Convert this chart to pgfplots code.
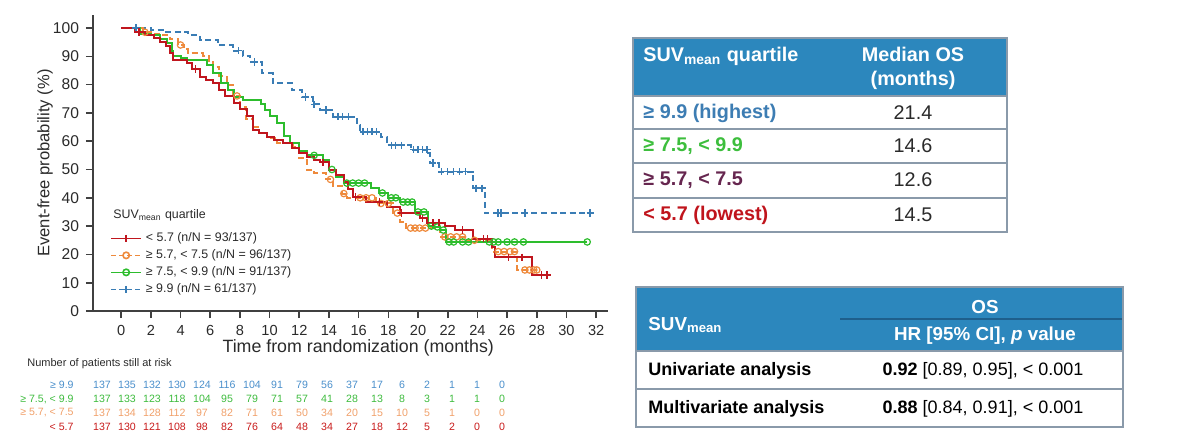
\documentclass[border=0pt]{standalone}
\usepackage{pgfplots}
\pgfplotsset{compat=1.18}
\usepackage{fontspec}
\setmainfont{Liberation Sans}
\definecolor{cred}{HTML}{C0161E}
\definecolor{corange}{HTML}{EE8A3C}
\definecolor{cgreen}{HTML}{2DBD2D}
\definecolor{cblue}{HTML}{3A7DB5}
\definecolor{rblue}{HTML}{4A8FCB}
\definecolor{rgreen}{HTML}{3DBB3D}
\definecolor{rorange}{HTML}{F0A06A}
\definecolor{rred}{HTML}{C81A1A}
\definecolor{tblue}{HTML}{3D7DB3}
\definecolor{tgreen}{HTML}{3DBE3D}
\definecolor{tpurple}{HTML}{66264F}
\definecolor{tred}{HTML}{C0141C}
\definecolor{hdr}{HTML}{2C87BD}
\definecolor{border}{HTML}{8A9AAA}
\definecolor{hdrline}{HTML}{1E5F8C}
\definecolor{txt}{HTML}{2A2A2A}
\begin{document}
\begin{tikzpicture}
\begin{scope}[x=0.5pt,y=-0.5pt]
\path (0,0) rectangle (1200,443);
% legend title
\node[anchor=west, inner sep=0pt, text=txt, font=\fontsize{6.2}{7}\selectfont] at (113,215) {SUV\textsubscript{mean} quartile};
% risk table
\node[anchor=west, inner sep=0pt, text=txt, font=\fontsize{5.5}{6}\selectfont] at (27,364) {Number of patients still at risk};
\begin{scope}[font=\fontsize{5.3}{6}\selectfont, inner sep=0pt]
\node[anchor=east, text=rblue] at (74,385) {≥ 9.9};
\node[anchor=east, text=rgreen] at (74,399) {≥ 7.5, < 9.9};
\node[anchor=east, text=rorange] at (74,413) {≥ 5.7, < 7.5};
\node[anchor=east, text=rred] at (74,427) {< 5.7};
\foreach \v [count=\i from 0] in {137,135,132,130,124,116,104,91,79,56,37,17,6,2,1,1,0}
  \node[text=rblue] at (102+25*\i,385) {\v};
\foreach \v [count=\i from 0] in {137,133,123,118,104,95,79,71,57,41,28,13,8,3,1,1,0}
  \node[text=rgreen] at (102+25*\i,399) {\v};
\foreach \v [count=\i from 0] in {137,134,128,112,97,82,71,61,50,34,20,15,10,5,1,0,0}
  \node[text=rorange] at (102+25*\i,413) {\v};
\foreach \v [count=\i from 0] in {137,130,121,108,98,82,76,64,48,34,27,18,12,5,2,0,0}
  \node[text=rred] at (102+25*\i,427) {\v};
\end{scope}
% table 1
\fill[hdr] (633,38) rectangle (1007,96);
\foreach \yy in {96,129,163,198} \draw[border, line width=0.6pt] (633,\yy) -- (1007,\yy);
\draw[border, line width=0.6pt] (633,38) rectangle (1007,232);
\begin{scope}[font=\fontsize{9.9}{12}\selectfont, inner sep=0pt]
\node[anchor=west, text=white, font=\fontsize{9.9}{12}\selectfont\bfseries] at (643,56) {SUV\textsubscript{mean} quartile};
\node[text=white, align=center, font=\fontsize{9.9}{12}\selectfont\bfseries] at (913,68) {Median OS\\(months)};
\node[anchor=west, text=tblue, font=\fontsize{9.9}{12}\selectfont\bfseries] at (643,113) {≥ 9.9 (highest)};
\node[anchor=west, text=tgreen, font=\fontsize{9.9}{12}\selectfont\bfseries] at (643,146) {≥ 7.5, < 9.9};
\node[anchor=west, text=tpurple, font=\fontsize{9.9}{12}\selectfont\bfseries] at (643,180) {≥ 5.7, < 7.5};
\node[anchor=west, text=tred, font=\fontsize{9.9}{12}\selectfont\bfseries] at (643,215) {< 5.7 (lowest)};
\node[text=txt] at (913,113) {21.4};
\node[text=txt] at (913,146) {14.6};
\node[text=txt] at (913,180) {12.6};
\node[text=txt] at (913,215) {14.5};
\end{scope}
% table 2
\fill[hdr] (636,287) rectangle (1123,351);
\draw[hdrline, line width=0.8pt] (840,319) -- (1123,319);
\draw[border, line width=0.6pt] (636,351) -- (1123,351);
\draw[border, line width=0.6pt] (636,389) -- (1123,389);
\draw[border, line width=0.6pt] (636,287) rectangle (1123,427);
\begin{scope}[font=\fontsize{9}{11}\selectfont, inner sep=0pt]
\node[anchor=west, text=white, font=\fontsize{9.4}{11}\selectfont\bfseries] at (648,325) {SUV\textsubscript{mean}};
\node[text=white, font=\fontsize{9.4}{11}\selectfont\bfseries] at (985,307) {OS};
\node[text=white, font=\fontsize{9.4}{11}\selectfont\bfseries] at (985,336) {HR [95\% CI], \textit{p} value};
\node[anchor=west, text=black, font=\fontsize{9}{11}\selectfont\bfseries] at (648,371) {Univariate analysis};
\node[anchor=west, text=black, font=\fontsize{9}{11}\selectfont\bfseries] at (648,409) {Multivariate analysis};
\node[text=black] at (983,371) {\textbf{0.92} [0.89, 0.95], < 0.001};
\node[text=black] at (983,409) {\textbf{0.88} [0.84, 0.91], < 0.001};
\end{scope}
\end{scope}

\begin{axis}[
  at={(46.5pt,-155.5pt)}, anchor=south west,
  scale only axis, width=257.5pt, height=148pt,
  xmin=-1.9, xmax=32.8, ymin=0, ymax=104.6,
  axis x line*=bottom, axis y line*=left,
  axis line style={line width=0.9pt, black!75},
  xtick={0,2,...,32}, ytick={0,10,...,100},
  tick align=outside, major tick length=3.5pt,
  tick style={line width=0.8pt, black!75},
  /pgf/number format/assume math mode=true,
  xticklabel style={font=\fontsize{7.3}{8}\selectfont, text=txt},
  yticklabel style={font=\fontsize{7.8}{8}\selectfont, text=txt},
  xlabel={Time from randomization (months)},
  ylabel={Event-free probability (\%)},
  xlabel style={font=\fontsize{8.9}{10}\selectfont, text=txt, at={(axis description cs:0.515,-0.125)}, anchor=center},
  ylabel style={font=\fontsize{8.3}{10}\selectfont, text=txt, at={(axis description cs:-0.093,0.5)}, anchor=center},
  legend image code/.code={\draw[mark repeat=2,mark phase=2,#1] plot coordinates {(0pt,0pt) (7.5pt,0pt) (15pt,0pt)};},
  legend style={at={(0.033,0.267)}, anchor=north west, draw=none, fill=none, inner sep=0pt,
    font=\fontsize{6.2}{7}\selectfont, text=txt, row sep=2.5pt,
    nodes={inner ysep=0pt, text height=4.5pt, text depth=1.5pt}},
  legend cell align=left,
]
% blue
\addplot[const plot, cblue, line width=1pt, dash pattern=on 3pt off 1.8pt, forget plot] coordinates {
(0,100) (2.0,99.3) (3.0,98.6) (4.5,97.5) (5.3,95.8) (6.5,94) (7.5,92) (8.2,90) (8.7,88) (9.5,84) (10.2,80.5) (11.5,78) (12.2,75.6) (12.9,73) (13.4,71) (14.3,68.6) (15.9,65.7) (16.1,63.3) (17.5,61.5) (17.9,58.6) (19.5,57) (20.7,55.8) (20.8,52.3) (21.4,49.2) (23.7,43.4) (24.5,34.6) (31.6,34.6)};
\addplot[only marks, mark=+, cblue, mark size=1.8pt, line width=0.7pt, forget plot] coordinates {
(1.0,100) (7.9,92) (9.0,88) (12.4,75.6) (13.0,73) (13.8,71) (14.6,68.6) (14.9,68.6) (15.3,68.6) (16.3,63.3) (16.6,63.3) (16.9,63.3) (17.2,63.3) (18.2,58.6) (18.5,58.6) (18.9,58.6) (19.7,57) (20.0,57) (20.3,57) (20.6,57) (21.0,52.3) (21.6,49.2) (22.0,49.2) (22.4,49.2) (22.8,49.2) (23.2,49.2) (23.9,43.4) (24.3,43.4) (25.4,34.6) (25.6,34.6) (27.2,34.6) (31.6,34.6)};
% orange
\addplot[const plot, corange, line width=1pt, dash pattern=on 3pt off 1.8pt, forget plot] coordinates {
(0,100) (1.5,98.5) (2.2,98) (2.8,97.5) (3.3,96) (3.8,94) (4.2,92.5) (4.5,91) (5.5,90) (5.9,88) (6.2,86.2) (6.6,83) (7.1,80) (7.5,76) (8.0,72) (8.4,68) (8.9,65) (9.3,63) (9.8,61) (10.5,59.5) (11.6,58) (12.0,54) (12.5,50) (13.0,48.7) (13.8,46.5) (14.3,44) (14.9,41.5) (15.2,40) (17.2,38) (18.3,34.6) (18.8,31.5) (19.2,29.3) (21.5,26.2) (23.3,25) (25.0,21) (26.7,14.5) (28.0,14.5)};
\addplot[only marks, mark=o, corange, mark size=1.6pt, line width=0.6pt, forget plot] coordinates {
(1.6,98.5) (4.0,94) (7.8,76) (14.1,46.5) (15.0,41.5) (16.1,40) (16.5,40) (16.9,40) (17.5,38) (18.0,38) (18.6,34.6) (19.5,29.3) (19.8,29.3) (20.1,29.3) (20.5,29.3) (21.8,26.2) (22.2,26.2) (22.6,26.2) (23.0,26.2) (23.8,25) (25.4,21) (25.8,21) (26.2,21) (26.5,21) (27.2,14.5) (27.5,14.5) (27.8,14.5) (28.0,14.5)};
% green
\addplot[const plot, cgreen, line width=1pt, forget plot] coordinates {
(0,100) (1.3,98) (2.0,97.5) (2.6,96) (3.1,94.6) (3.4,92) (3.5,90) (4.0,89.4) (4.4,88.7) (5.8,87) (6.2,84) (6.7,80.5) (7.2,78) (7.6,75.6) (8.2,74.6) (9.4,73) (9.7,71) (10.0,69) (10.5,66.3) (11.0,62) (11.4,59.3) (12.0,56.5) (12.5,55) (13.6,53.5) (14.0,50) (14.5,47.5) (15.0,45.2) (16.8,43.5) (17.4,41.7) (18.0,40) (18.8,38.5) (19.8,35) (20.7,30) (21.0,29.7) (21.5,28.6) (21.9,24.4) (31.4,24.4)};
\addplot[only marks, mark=o, cgreen, mark size=1.6pt, line width=0.6pt, forget plot] coordinates {
(13.0,55) (14.2,50) (15.2,45.2) (15.6,45.2) (16.0,45.2) (16.4,45.2) (17.6,41.7) (18.2,40) (18.5,40) (19.0,38.5) (19.3,38.5) (19.6,38.5) (20.0,35) (20.4,35) (20.9,30) (21.3,29.7) (21.7,28.6) (22.1,24.4) (22.4,24.4) (23.0,24.4) (23.4,24.4) (24.8,24.4) (25.1,24.4) (25.4,24.4) (26.0,24.4) (26.5,24.4) (27.1,24.4) (31.4,24.4)};
% red
\addplot[const plot, cred, line width=1pt, forget plot] coordinates {
(0,100) (0.9,98.6) (1.6,97.5) (2.2,96.4) (2.6,95) (3.0,93.5) (3.3,91) (3.5,88.7) (4.4,87.6) (4.8,85.5) (5.3,82.7) (5.7,81.5) (6.2,80.5) (6.6,78) (7.0,76) (7.6,73.4) (8.0,71.5) (8.5,69) (8.9,64) (9.3,63) (9.8,61.6) (10.3,60.5) (10.9,59.3) (11.5,57.5) (12.0,55.8) (12.5,54.5) (13.0,53.4) (13.4,52.5) (14.0,50) (14.5,48) (15.0,45.6) (15.3,43) (15.6,40.3) (16.5,38.5) (17.9,36.8) (18.8,34.6) (20.1,32.8) (20.6,31.2) (21.8,30) (22.5,28.6) (23.7,25.5) (25.0,22.7) (25.2,19) (27.7,12.7) (28.8,12.7)};
\addplot[only marks, mark=+, cred, mark size=1.8pt, line width=0.7pt, forget plot] coordinates {
(1.2,98.6) (5.0,85.5) (13.6,52.5) (15.8,40.3) (17.4,38.5) (18.9,34.6) (20.3,32.8) (21.0,31.2) (21.4,31.2) (23.0,28.6) (24.4,25.5) (24.7,25.5) (26.1,19) (27.0,19) (28.3,12.7) (28.7,12.7)};
% legend
\addlegendimage{cred, line width=0.8pt, mark=+, mark size=1.8pt}
\addlegendentry{< 5.7 (n/N = 93/137)}
\addlegendimage{corange, line width=0.8pt, dash pattern=on 2.5pt off 1.5pt, mark=o, mark size=1.6pt, mark options={solid}}
\addlegendentry{≥ 5.7, < 7.5 (n/N = 96/137)}
\addlegendimage{cgreen, line width=0.8pt, mark=o, mark size=1.6pt}
\addlegendentry{≥ 7.5, < 9.9 (n/N = 91/137)}
\addlegendimage{cblue, line width=0.8pt, dash pattern=on 2.5pt off 1.5pt, mark=+, mark size=1.8pt, mark options={solid}}
\addlegendentry{≥ 9.9 (n/N = 61/137)}
\end{axis}
\end{tikzpicture}
\end{document}
